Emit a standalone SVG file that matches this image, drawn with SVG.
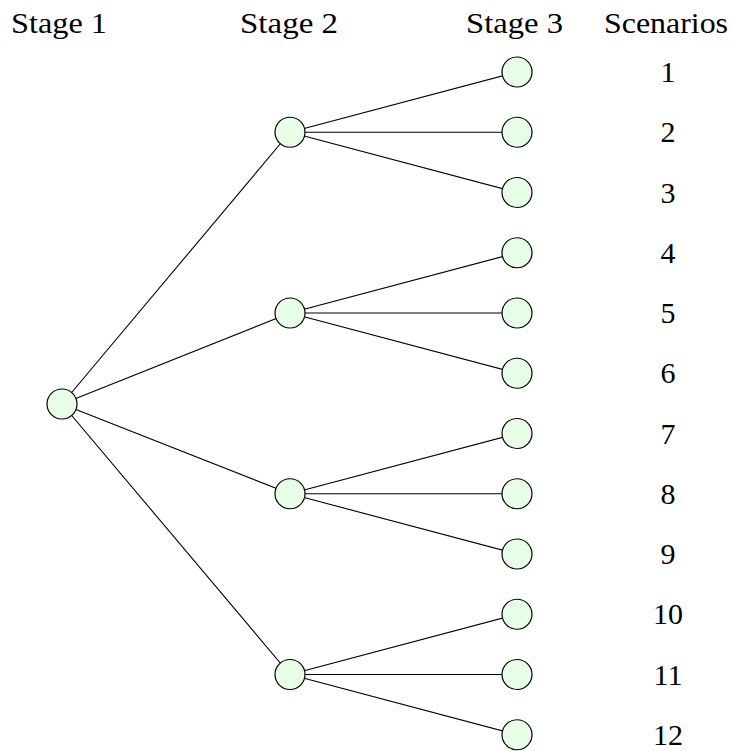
<svg xmlns="http://www.w3.org/2000/svg" width="732" height="751" viewBox="0 0 732 751">
<style>
.n{fill:#e6ffe6;stroke:#000;stroke-width:1.2}
.e{stroke:#000;stroke-width:1.1;fill:none}
text{font-family:'Liberation Serif','Times New Roman','DejaVu Serif',serif;font-size:30px;fill:#000}
.h{text-anchor:middle}
</style>
<rect width="732" height="751" fill="#fff"/>
<g id="headers">
<text x="11" y="33" textLength="96" lengthAdjust="spacingAndGlyphs">Stage 1</text>
<text x="240" y="33" textLength="98" lengthAdjust="spacingAndGlyphs">Stage 2</text>
<text x="466" y="33" textLength="97" lengthAdjust="spacingAndGlyphs">Stage 3</text>
<text x="604" y="33" textLength="124" lengthAdjust="spacingAndGlyphs">Scenarios</text>
</g>
<g id="connectors">
<line class="e" x1="62" y1="404" x2="290" y2="132.25"/>
<line class="e" x1="62" y1="404" x2="290" y2="313"/>
<line class="e" x1="62" y1="404" x2="290" y2="493.75"/>
<line class="e" x1="62" y1="404" x2="290" y2="674.5"/>
<line class="e" x1="290" y1="132.25" x2="517" y2="72"/>
<line class="e" x1="290" y1="132.25" x2="517" y2="132.25"/>
<line class="e" x1="290" y1="132.25" x2="517" y2="192.5"/>
<line class="e" x1="290" y1="313" x2="517" y2="252.75"/>
<line class="e" x1="290" y1="313" x2="517" y2="313"/>
<line class="e" x1="290" y1="313" x2="517" y2="373.25"/>
<line class="e" x1="290" y1="493.75" x2="517" y2="433.5"/>
<line class="e" x1="290" y1="493.75" x2="517" y2="493.75"/>
<line class="e" x1="290" y1="493.75" x2="517" y2="554"/>
<line class="e" x1="290" y1="674.5" x2="517" y2="614.25"/>
<line class="e" x1="290" y1="674.5" x2="517" y2="674.5"/>
<line class="e" x1="290" y1="674.5" x2="517" y2="734.75"/>
</g>
<g id="root"><circle class="n" cx="62" cy="404" r="15"/></g>
<g id="s2-1"><circle class="n" cx="290" cy="132.25" r="15"/></g>
<g id="s2-2"><circle class="n" cx="290" cy="313" r="15"/></g>
<g id="s2-3"><circle class="n" cx="290" cy="493.75" r="15"/></g>
<g id="s2-4"><circle class="n" cx="290" cy="674.5" r="15"/></g>
<g id="s3-1"><circle class="n" cx="517" cy="72" r="15"/><text class="h" x="668" y="82">1</text></g>
<g id="s3-2"><circle class="n" cx="517" cy="132.25" r="15"/><text class="h" x="668" y="142.25">2</text></g>
<g id="s3-3"><circle class="n" cx="517" cy="192.5" r="15"/><text class="h" x="668" y="202.5">3</text></g>
<g id="s3-4"><circle class="n" cx="517" cy="252.75" r="15"/><text class="h" x="668" y="262.75">4</text></g>
<g id="s3-5"><circle class="n" cx="517" cy="313" r="15"/><text class="h" x="668" y="323">5</text></g>
<g id="s3-6"><circle class="n" cx="517" cy="373.25" r="15"/><text class="h" x="668" y="383.25">6</text></g>
<g id="s3-7"><circle class="n" cx="517" cy="433.5" r="15"/><text class="h" x="668" y="443.5">7</text></g>
<g id="s3-8"><circle class="n" cx="517" cy="493.75" r="15"/><text class="h" x="668" y="503.75">8</text></g>
<g id="s3-9"><circle class="n" cx="517" cy="554" r="15"/><text class="h" x="668" y="564">9</text></g>
<g id="s3-10"><circle class="n" cx="517" cy="614.25" r="15"/><text class="h" x="668" y="624.25">10</text></g>
<g id="s3-11"><circle class="n" cx="517" cy="674.5" r="15"/><text class="h" x="668" y="684.5">11</text></g>
<g id="s3-12"><circle class="n" cx="517" cy="734.75" r="15"/><text class="h" x="668" y="744.75">12</text></g>
</svg>
